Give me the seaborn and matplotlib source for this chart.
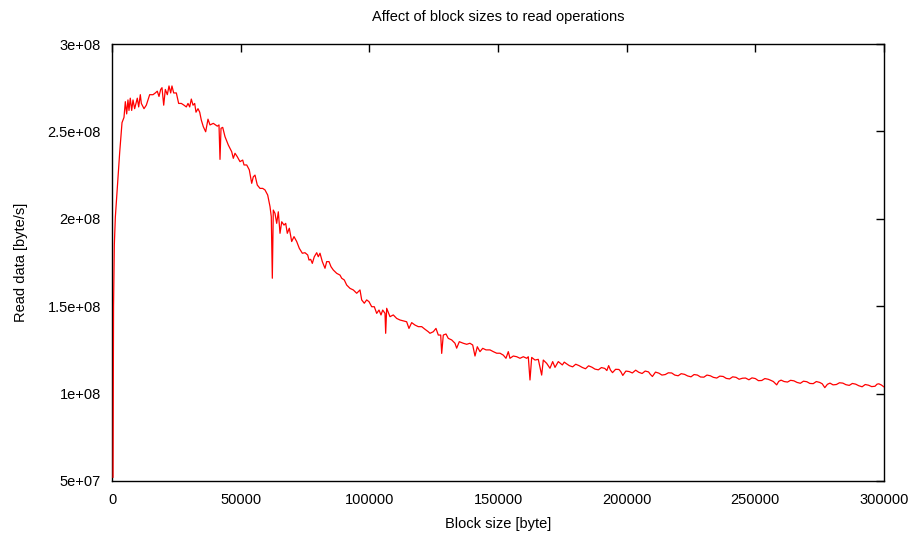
import matplotlib
matplotlib.use('Agg')
import matplotlib.pyplot as plt
import seaborn as sns
import pandas as pd
from matplotlib.ticker import FuncFormatter, MultipleLocator

# block size in bytes, read throughput in 1e6 byte/s
block_size = [
    400, 600, 900, 1300, 2060, 2990, 3620, 3890, 4660, 5180, 5700, 6200, 6600,
    7100, 7650, 8160, 8800, 9830, 10370, 11000, 11400, 12440, 13330, 14640,
    15930, 16840, 17600, 18260, 18920, 19430, 20090, 20720, 21500, 22150,
    22800, 23300, 23970, 25000, 25900, 26940, 27980, 28880, 29530, 30190,
    30820, 31480, 32130, 32640, 33420, 34080, 34700, 35480, 36400, 37300,
    38080, 39370, 40920, 41580, 41970, 42360, 43020, 43910, 45200, 46510,
    47140, 47800, 48690, 49740, 50790, 51300, 52350, 53350, 54290, 54910,
    55570, 56460, 57510, 58560, 59460, 60500, 61400, 61900, 62300, 62680,
    63340, 64000, 64630, 65290, 65950, 66840, 67500, 68120, 68900, 69830,
    70730, 71770, 72790, 73960, 75000, 76050, 76560, 77210, 77840, 78610,
    79550, 80170, 80830, 81730, 82770, 83430, 84330, 85100, 86000, 87320,
    88600, 89260, 90270, 91200, 92490, 93770, 95090, 96370, 97030, 98040,
    98970, 99870, 100920, 101930, 102860, 103760, 104530, 105190, 106090,
    106350, 106740, 108030, 109310, 110630, 111920, 113200, 114500, 115400,
    116460, 117750, 119030, 120350, 121630, 122910, 123570, 124860, 125900,
    126800, 127730, 128120, 128740, 129790, 130680, 132000, 133280, 133940,
    134960, 136500, 137840, 139100, 140170, 141060, 141960, 143000, 144060,
    145340, 146890, 148180, 149500, 150780, 152070, 153100, 154000, 154660,
    155950, 157270, 158550, 159830, 161150, 161770, 162430, 163090, 164380,
    165650, 166970, 167600, 168920, 170200, 171250, 172150, 173430,
    175000, 175750, 176500, 177700, 179000, 180200, 181500, 182700, 184000,
    185200, 186500, 187700, 189000, 190200, 191500, 192300, 193000, 193700,
    194500, 195700, 197000, 197700, 198500, 199700, 201000, 202200, 203500,
    204700, 206000, 207200, 208500, 209200, 210000, 211200, 212500, 213700,
    215000, 216200, 217500, 218700, 220000, 221200, 222500, 223700, 225000,
    226200, 227500, 228700, 230000, 231200, 232500, 233700, 235000, 236200,
    237500, 238700, 240000, 241200, 242500, 243700, 245000, 246200, 247500,
    248700, 250000, 251200, 252500, 253700, 255000, 256000, 257000, 258300,
    259100, 260000, 261200, 262500, 263700, 265000, 266200, 267500, 268700,
    270000, 271200, 272500, 273700, 275000, 276000, 277000, 278000, 279000,
    280200, 281500, 282700, 284000, 285200, 286500, 287700, 289000, 290200,
    291500, 292700, 294000, 295200, 296500, 297300, 298000, 299000, 300000,
]

read_rate_mb = [
    52, 150, 185, 201, 218, 238, 250, 255, 258, 267, 260, 268, 262,
    269, 262, 268, 263, 269, 264, 271, 266, 263, 265, 271,
    271, 272, 273, 270, 274, 275, 265, 274, 271, 276,
    272, 276, 272, 272, 266, 266, 265, 264, 266, 264,
    268.5, 265, 266, 261, 263, 261, 256.5, 252.7, 249.8, 257,
    253.7, 254.6, 253, 253.7, 234, 251.8, 252.3, 247, 242.2, 238.4,
    234.6, 237.5, 235.5, 232.7, 233.6, 230.8, 230.8, 228, 220.3, 224,
    225, 219.3, 217.4, 217.4, 216.5, 213.6, 207, 201.2, 166, 205,
    203.1, 197.4, 204, 191.7, 198.3, 196.4, 197.4, 191.7, 194.6, 187,
    189.8, 187, 183.1, 180.3, 180.6, 179.3, 176.4, 176.8, 174.5, 178.3,
    180.6, 178.3, 180.3, 175.5, 171.7, 175.5, 175.5, 172.6, 170.7, 168.8,
    167.8, 166, 165, 162.1, 160.2, 159.3, 157.4, 159.3, 153.6, 151.7,
    153.6, 152.6, 149.7, 149.7, 145.9, 147.8, 145, 147.8, 145.9,
    134.5, 148.8, 144, 145, 143, 142.1, 141.6, 141.1, 137.3,
    140.6, 139.2, 138.3, 138.3, 136.8, 135.4, 134.5, 135.4, 137.3,
    133.5, 133.5, 123, 133.5, 134.1, 131.6, 130.7, 128.8, 126,
    129.7, 128.8, 128.2, 128.8, 127.8, 121.5, 126.8, 124, 125.9,
    125, 125, 124, 123.1, 123.1, 122, 120.2, 124, 120.2,
    121.5, 121.1, 120.2, 121.1, 120.2, 121.1, 107.8, 120.7, 119.2,
    119.6, 110.6, 119.2, 117.3, 114.5, 118.3, 115, 118.3,
    116.4, 118.0, 117.2, 116.0, 115.3, 116.8, 116.0, 115.0, 114.2,
    115.9, 115.1, 114.0, 113.6, 114.9, 114.4, 113.2, 116.0, 113.5,
    112.0, 113.9, 113.8, 112.6, 110.4, 112.9, 112.6, 111.8, 113.4,
    112.2, 111.5, 112.9, 112.4, 111.0, 109.8, 112.3, 111.7, 110.6,
    110.9, 111.9, 111.8, 110.6, 110.2, 111.4, 111.0, 110.1, 109.6,
    110.9, 110.6, 109.5, 109.4, 110.6, 110.2, 109.3, 108.9, 110.0,
    109.8, 108.7, 108.4, 109.6, 109.3, 108.2, 108.8, 108.9, 107.9,
    109.0, 108.6, 107.4, 107.5, 108.6, 108.2, 107.6, 106.9, 105.0,
    107.0, 107.7, 106.9, 106.6, 107.6, 107.3, 106.4, 105.9, 107.1,
    106.8, 105.8, 105.7, 106.9, 106.4, 105.6, 103.4, 105.3, 106.0,
    105.0, 105.2, 106.2, 106.0, 105.1, 104.7, 105.8, 105.4, 104.5,
    103.9, 105.2, 104.8, 104.0, 104.2, 105.4, 105.6, 104.9, 103.8,
]

sns.set_style('white')
plt.rcParams['font.family'] = ['Liberation Sans', 'DejaVu Sans']

df = pd.DataFrame({
    'block': block_size,
    'rate': [v * 1e6 for v in read_rate_mb],
})

fig = plt.figure(figsize=(9.13, 5.34), dpi=100)
ax = fig.add_axes([112 / 913, 53 / 534, 772 / 913, 437 / 534])

# line drawn above the frame so the steep start next to the axis stays visible
sns.lineplot(data=df, x='block', y='rate', color='#ff0000', linewidth=0.9,
             estimator=None, sort=False, ax=ax, zorder=3)

ax.set_xlim(0, 300000)
ax.set_ylim(5e7, 3e8)
ax.xaxis.set_major_locator(MultipleLocator(50000))
ax.yaxis.set_major_locator(MultipleLocator(5e7))
gfmt = FuncFormatter(lambda v, p: '%g' % v)
ax.xaxis.set_major_formatter(gfmt)
ax.yaxis.set_major_formatter(gfmt)

# gnuplot look: inward ticks mirrored on all sides, black frame
ax.tick_params(axis='both', direction='in', length=6, width=1, top=True,
               right=True, labelsize=10.5, labelcolor='black', color='black')
ax.tick_params(axis='x', pad=9)
ax.tick_params(axis='y', pad=8)
for sp in ax.spines.values():
    sp.set_color('black')
    sp.set_linewidth(1)

ax.set_xlabel('Block size [byte]', fontsize=10.5, color='black')
ax.set_ylabel('Read data [byte/s]', fontsize=10.5, color='black')
ax.xaxis.set_label_coords(0.5, -0.082)
ax.yaxis.set_label_coords(-0.109, 0.5)

fig.text(498 / 913, 1 - 17 / 534, 'Affect of block sizes to read operations',
         ha='center', va='center', fontsize=10.5, color='black')

fig.savefig('out.png', dpi=100)
